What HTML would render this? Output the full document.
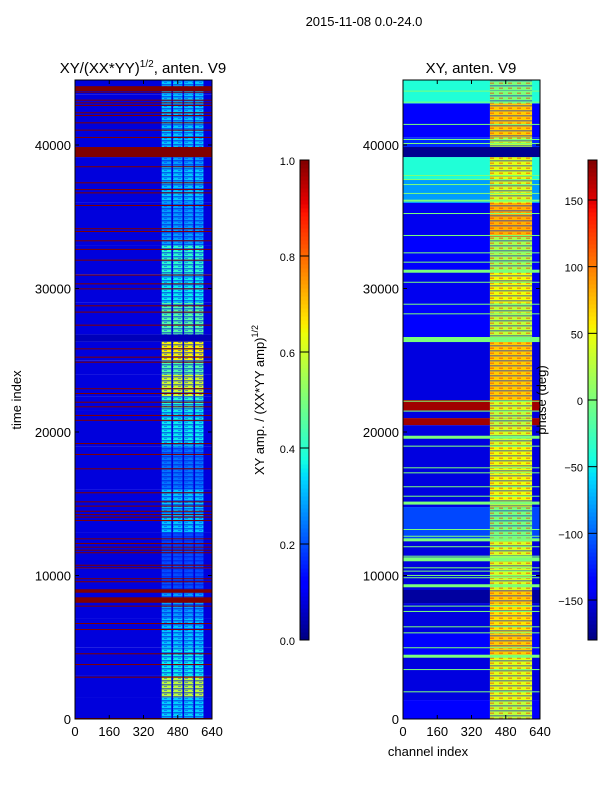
<!DOCTYPE html>
<html><head><meta charset="utf-8">
<style>
html,body{margin:0;padding:0;background:#fff;}
svg{display:block;font-family:"Liberation Sans",sans-serif;}
</style></head>
<body>
<svg id="fig" width="600" height="800" viewBox="0 0 600 800" xmlns="http://www.w3.org/2000/svg">
<defs>
<pattern id="texL" width="7" height="4" patternUnits="userSpaceOnUse"><rect x="0" y="0" width="7" height="1.5" fill="#0010e0" opacity="0.55"/><rect x="3" y="2" width="3" height="1" fill="#0030ff" opacity="0.5"/></pattern>
<pattern id="texR" width="9" height="5" patternUnits="userSpaceOnUse"><rect x="0" y="0" width="9" height="1.5" fill="#0020e0" opacity="0.45"/><rect x="4" y="2.5" width="4" height="1.5" fill="#ff2000" opacity="0.45"/></pattern>
</defs>
<rect width="600" height="800" fill="#fff"/>
<text x="364" y="26" font-size="13" text-anchor="middle">2015-11-08 0.0-24.0</text>
<text x="143" y="73" font-size="15" text-anchor="middle">XY/(XX*YY)<tspan font-size="10" dy="-6">1/2</tspan><tspan dy="6">, anten. V9</tspan></text>
<text x="471" y="73" font-size="15" text-anchor="middle">XY, anten. V9</text>
<text transform="translate(21,400) rotate(-90)" font-size="13" text-anchor="middle">time index</text>
<text x="428" y="756" font-size="13" text-anchor="middle">channel index</text>
<text transform="translate(264,400) rotate(-90)" font-size="13" text-anchor="middle">XY amp. / (XX*YY amp)<tspan font-size="9" dy="-6">1/2</tspan></text>
<g id="left"></g>
<g id="right"></g>
<g id="cb1"></g>
<g id="cb2"></g>
<text transform="translate(546,400) rotate(-90)" font-size="13" text-anchor="middle">phase (deg)</text>
</svg>
<script>
// ---- data ----
const xTicks = [0,160,320,480,640];
const yTicks = [0,10000,20000,30000,40000];
const ampTicks = [0.0,0.2,0.4,0.6,0.8,1.0];
const phaseTicks = [-150,-100,-50,0,50,100,150];
// left panel bands: [t0, t1, background amp, high-channel amp]
const leftBands = [
[0,1500,0.08,0.33],[1500,3000,0.08,0.58],[3000,5000,0.08,0.36],[5000,7000,0.08,0.32],
[7000,9000,0.08,0.28],[9000,10500,0.08,0.2],[10500,13000,0.08,0.2],[13000,16000,0.08,0.32],
[16000,19000,0.08,0.24],[19000,21500,0.08,0.36],[21500,22500,0.08,0.4],[22500,24000,0.08,0.6],
[24000,25000,0.08,0.45],[25000,26300,0.08,0.65],[26300,26800,0.05,0.05],[26800,29000,0.08,0.45],
[29000,31000,0.08,0.36],[31000,33000,0.08,0.4],[33000,36000,0.08,0.28],[36000,38500,0.08,0.32],
[38500,39160,0.08,0.28],[39160,39860,1.0,1.0],[39860,43500,0.08,0.32],[43500,44530,0.08,0.32]];
// left red lines: [t, dt]
const leftLines = [[43650,70],[43760,340],[43090,70],[42900,70],[42720,70],[42210,70],[42020,70],[41510,70],[41000,70],[40490,70],
[38450,70],[37330,70],[36860,70],[36630,70],[35750,70],[34130,70],[33940,70],[33290,70],[32690,70],[31940,70],[30900,70],[30290,70],[29940,70],
[28760,70],[28320,70],[27410,70],[25760,70],[25180,70],[24830,70],[22980,70],[22650,70],[22040,70],[21720,70],[21120,70],[20780,70],
[19160,70],[18400,70],[17400,70],[15730,70],[15100,70],[14800,70],[14440,70],[14210,70],[14030,70],[13800,70],[12520,70],[12200,70],
[11940,70],[11730,70],[11550,70],[10680,70],[10500,70],[9740,70],[9530,70],[8800,240],[8100,380],[7830,70],[6620,70],[6200,70],
[4510,70],[3760,70],[2880,70],[0,70]];
// right panel bands: [t0, t1, background phase, high-channel phase]
const rightBands = [
[0,1320,-140,30],[1320,4320,-150,45],[4320,5990,-140,70],[5990,8080,-150,60],[8080,8990,-170,70],
[8990,12470,-150,40],[12470,14770,-110,0],[14770,18960,-150,50],[18960,20480,-150,40],[20480,20970,170,30],
[20970,21500,-150,30],[21500,22230,170,40],[22230,26270,-150,70],[26270,26620,0,0],[26620,28990,-140,30],
[28990,31080,-145,50],[31080,33590,-140,20],[33590,35960,-145,80],[35960,37560,-80,40],[37560,39160,-40,45],
[39160,39860,-175,-175],[39860,40550,-120,30],[40550,42900,-140,70],[42900,44530,-40,0]];
// right green lines: [t, dt]
const rightLines = [[43720,70],[42950,70],[41400,70],[40350,70],[40070,70],[37840,70],[37560,70],[37210,70],[36590,70],[36050,140],
[35190,70],[33660,70],[32450,70],[31800,70],[31100,210],[30400,70],[28870,70],[28200,70],[22110,70],[21420,70],[19530,210],[18980,70],
[17470,70],[17120,70],[16150,70],[15490,70],[14940,210],[13170,70],[12700,70],[12380,210],[11970,70],[11310,70],[10990,280],[10500,70],
[10270,70],[9970,70],[9810,70],[9180,210],[7830,70],[7460,70],[6390,70],[5970,70],[4930,70],[4270,210],[3410,70],[1860,70]];
// high-channel sub-columns [c0,c1]
const leftCols = [[405,450],[458,502],[510,553],[561,600]];
const rightCols = [[406,603]];

// ---- helpers ----
const NS="http://www.w3.org/2000/svg";
function interp(pts,v){for(let i=1;i<pts.length;i++){if(v<=pts[i][0]){const a=pts[i-1],b=pts[i];return a[1]+(b[1]-a[1])*(v-a[0])/(b[0]-a[0]);}}return pts[pts.length-1][1];}
function jet(v){v=Math.max(0,Math.min(1,v));
const r=interp([[0,0],[0.35,0],[0.66,1],[0.89,1],[1,0.5]],v);
const g=interp([[0,0],[0.125,0],[0.375,1],[0.64,1],[0.91,0],[1,0]],v);
const b=interp([[0,0.5],[0.11,1],[0.34,1],[0.65,0],[1,0]],v);
return `rgb(${Math.round(r*255)},${Math.round(g*255)},${Math.round(b*255)})`;}
function mk(tag,attrs,parent){const e=document.createElementNS(NS,tag);for(const k in attrs)e.setAttribute(k,attrs[k]);parent.appendChild(e);return e;}
const yT=t=>719-t*574/40000;
function xAx(x0){return c=>x0+c*137/640;}

function panel(g,x0,bands,lines,cols,norm,lineVal,name,tex){
  const xC=xAx(x0);
  for(const b of bands){
    const y1=yT(b[1]),y0=yT(b[0]);
    const r=mk('rect',{x:x0,y:y1,width:137,height:y0-y1,fill:jet(norm(b[2]))},g);
    
    
    for(const c of cols){
      const rr=mk('rect',{x:xC(c[0]),y:y1,width:xC(c[1])-xC(c[0]),height:y0-y1,fill:jet(norm(b[3]))},g);
      
      
      if(b[3]!==b[2]) mk('rect',{x:xC(c[0]),y:y1,width:xC(c[1])-xC(c[0]),height:y0-y1,fill:'url(#'+tex+')'},g);
    }
  }
  for(const l of lines){
    const y=yT(l[0]+l[1]);const h=Math.max(1,yT(l[0])-y);
    const r=mk('rect',{x:x0,y:y,width:137,height:h,fill:jet(lineVal)},g);
    
    
  }
  const fr=mk('rect',{x:x0,y:80,width:137,height:639,fill:'none',stroke:'#000','stroke-width':1},g);
  
  
  for(const c of xTicks){const x=xC(c);
    mk('line',{x1:x,y1:719,x2:x,y2:715,stroke:'#000'},g);mk('line',{x1:x,y1:80,x2:x,y2:84,stroke:'#000'},g);
    const t=mk('text',{x:x,y:736,'font-size':13,'text-anchor':'middle'},g);t.textContent=c;
    
    }
  for(const v of yTicks){const y=yT(v);
    mk('line',{x1:x0,y1:y,x2:x0+4,y2:y,stroke:'#000'},g);mk('line',{x1:x0+137,y1:y,x2:x0+133,y2:y,stroke:'#000'},g);
    const t=mk('text',{x:x0-4,y:y+5,'font-size':13,'text-anchor':'end'},g);t.textContent=v;
    
    }
}
panel(document.getElementById('left'),75,leftBands,leftLines,leftCols,v=>v,1.0,'left','texL');
panel(document.getElementById('right'),403,rightBands,rightLines,rightCols,v=>(v+180)/360,0.5,'right','texR');

function colorbar(g,x0,vmin,vmax,ticks,fmt){
  const n=120;
  for(let i=0;i<n;i++){const f=(i+0.5)/n;const y=640-(i+1)*480/n;
    mk('rect',{x:x0,y:y,width:9,height:480/n+0.5,fill:jet(f)},g);}
  const fr=mk('rect',{x:x0,y:160,width:9,height:480,fill:'none',stroke:'#000'},g);
  
  
  for(const v of ticks){const y=640-(v-vmin)/(vmax-vmin)*480;
    mk('line',{x1:x0,y1:y,x2:x0+9,y2:y,stroke:'#000'},g);
    const t=mk('text',{x:x0-5,y:y+5,'font-size':11,'text-anchor':'end'},g);t.textContent=fmt(v);
    
    }
}
colorbar(document.getElementById('cb1'),300,0,1,ampTicks,v=>v.toFixed(1));
colorbar(document.getElementById('cb2'),588,-180,180,phaseTicks,v=>v<0?'\u2212'+(-v):String(v));
</script>
</body></html>
